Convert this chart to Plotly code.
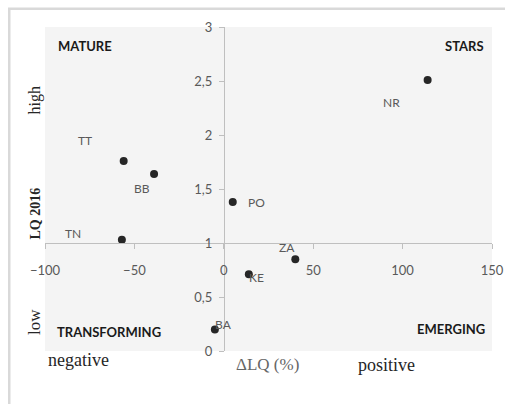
import plotly.graph_objects as go

names = ["NR", "TT", "BB", "PO", "TN", "KE", "ZA", "BA"]
dlq = [114, -56, -39, 5, -57, 14, 40, -5]
lq2016 = [2.51, 1.76, 1.64, 1.38, 1.03, 0.71, 0.85, 0.20]
# label offsets in px (dx right, dy up)
label_dx = [-36, -39, -12, 24, -49, 8, -8, 9]
label_dy = [-23, 20, -15, -1, 6, -3, 12, 5]

x_ticks = [-100, -50, 0, 50, 100, 150]
y_ticks = [0, 0.5, 1, 1.5, 2, 2.5, 3]

W, H = 505, 404
ml, mr, mt, mb = 45, 13, 27, 53

fig = go.Figure()
fig.add_trace(go.Scatter(
    x=dlq, y=lq2016, mode="markers",
    marker=dict(size=8, color="#262626"),
    hoverinfo="skip", showlegend=False,
))

sans = "Lato, Open Sans, sans-serif"
tickfont = dict(family=sans, size=13, color="#595959")

for n, xv, yv, dx, dy in zip(names, dlq, lq2016, label_dx, label_dy):
    fig.add_annotation(x=xv, y=yv, text=n, showarrow=False,
                       xshift=dx, yshift=dy,
                       font=dict(family=sans, size=12, color="#595959"))

quad = dict(family=sans, size=13, color="#1a1a1a")
fig.add_annotation(xref="paper", yref="paper", x=0.024, y=0.941, text="<b>MATURE</b>",
                   showarrow=False, xanchor="left", yanchor="middle", font=quad)
fig.add_annotation(xref="paper", yref="paper", x=0.987, y=0.941, text="<b>STARS</b>",
                   showarrow=False, xanchor="right", yanchor="middle", font=quad)
fig.add_annotation(xref="paper", yref="paper", x=0.022, y=0.059, text="<b>TRANSFORMING</b>",
                   showarrow=False, xanchor="left", yanchor="middle", font=quad)
fig.add_annotation(xref="paper", yref="paper", x=0.989, y=0.068, text="<b>EMERGING</b>",
                   showarrow=False, xanchor="right", yanchor="middle", font=quad)

serif = "Liberation Serif, Times New Roman, serif"
fig.add_annotation(xref="paper", yref="paper", x=0.076, y=-0.028, text="negative",
                   showarrow=False, xanchor="center", yanchor="middle",
                   font=dict(family=serif, size=18, color="#262626"))
fig.add_annotation(xref="paper", yref="paper", x=0.498, y=-0.043, text="ΔLQ (%)",
                   showarrow=False, xanchor="center", yanchor="middle",
                   font=dict(family=serif, size=17, color="#666666"))
fig.add_annotation(xref="paper", yref="paper", x=0.765, y=-0.043, text="positive",
                   showarrow=False, xanchor="center", yanchor="middle",
                   font=dict(family=serif, size=18, color="#262626"))
fig.add_annotation(xref="paper", yref="paper", x=-0.022, y=0.774, text="high",
                   showarrow=False, textangle=-90, xanchor="center", yanchor="middle",
                   font=dict(family=serif, size=16, color="#262626"))
fig.add_annotation(xref="paper", yref="paper", x=-0.022, y=0.425, text="<b>LQ 2016</b>",
                   showarrow=False, textangle=-90, xanchor="center", yanchor="middle",
                   font=dict(family=serif, size=14, color="#262626"))
fig.add_annotation(xref="paper", yref="paper", x=-0.022, y=0.09, text="low",
                   showarrow=False, textangle=-90, xanchor="center", yanchor="middle",
                   font=dict(family=serif, size=17, color="#262626"))

# outer chart frame
fig.add_shape(type="rect", xref="paper", yref="paper",
              x0=-0.08, y0=-0.3, x1=1.2, y1=1.056,
              line=dict(color="#d9d9d9", width=2.5), fillcolor="rgba(0,0,0,0)", layer="below")

fig.update_layout(
    width=W, height=H,
    margin=dict(l=ml, r=mr, t=mt, b=mb, autoexpand=False),
    paper_bgcolor="white", plot_bgcolor="#f4f4f4",
    separators=", ",
    xaxis=dict(range=[-100, 150], tickvals=x_ticks, showgrid=False, zeroline=False,
               anchor="free", position=1/3, showline=True, linecolor="#bfbfbf", linewidth=1,
               ticks="outside", ticklen=5, tickcolor="#bfbfbf", tickfont=tickfont,
               ticklabelstandoff=10, fixedrange=True, automargin=False),
    yaxis=dict(range=[0, 3], tickvals=y_ticks, showgrid=False, zeroline=False,
               anchor="free", position=0.4, showline=True, linecolor="#bfbfbf", linewidth=1,
               ticks="outside", ticklen=5, tickcolor="#bfbfbf", tickfont=tickfont,
               ticklabelstandoff=4, fixedrange=True, automargin=False),
)

fig.write_html("out.html", config={"displayModeBar": False},
               post_script="document.body.style.margin='0px';document.body.style.overflow='hidden';")
